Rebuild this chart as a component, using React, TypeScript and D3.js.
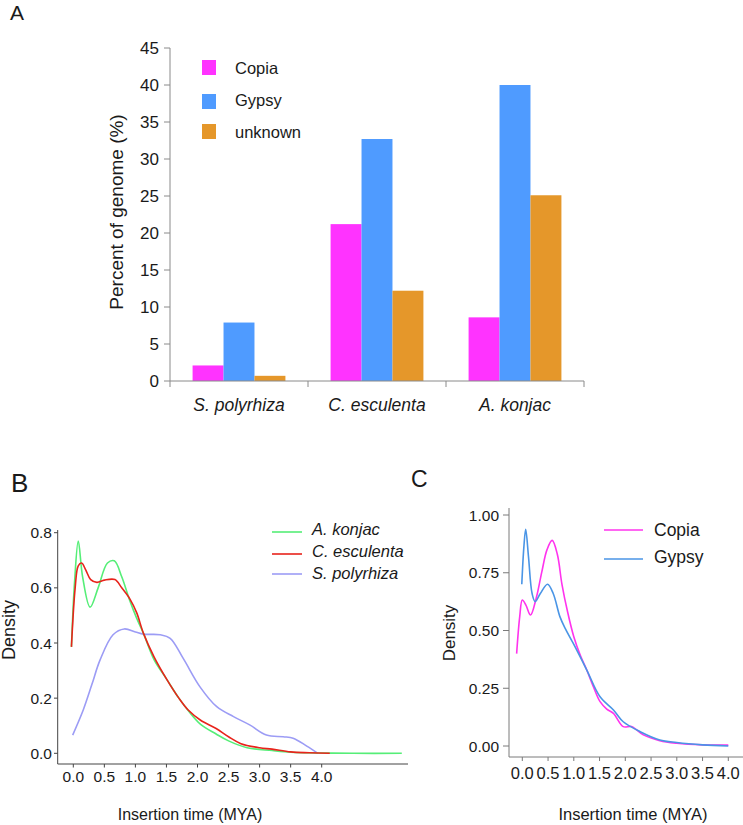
import React from "react";
import * as d3 from "d3";

// ---------- Panel A data ----------
const speciesA = ["S. polyrhiza", "C. esculenta", "A. konjac"];
const seriesA = ["Copia", "Gypsy", "unknown"];
const copiaPct = [2.1, 21.2, 8.6];
const gypsyPct = [7.9, 32.7, 40.0];
const unknownPct = [0.7, 12.2, 25.1];
const yTicksA = [0, 5, 10, 15, 20, 25, 30, 35, 40, 45];

// ---------- Panel B data ----------
const konjacX = [-0.03, 0.02, 0.08, 0.15, 0.27, 0.4, 0.55, 0.66, 0.78, 0.9, 1.02, 1.13, 1.3, 1.5, 1.7, 1.85, 2.05, 2.3, 2.5, 2.8, 3.2, 3.5, 4.0, 4.5, 5.29];
const konjacY = [0.386, 0.62, 0.77, 0.64, 0.53, 0.6, 0.69, 0.698, 0.64, 0.56, 0.49, 0.435, 0.34, 0.27, 0.2, 0.155, 0.105, 0.07, 0.045, 0.02, 0.01, 0.004, 0.001, 0.0, 0.0];
const esculentaX = [-0.03, 0.03, 0.08, 0.135, 0.2, 0.28, 0.38, 0.5, 0.67, 0.78, 0.91, 1.02, 1.13, 1.3, 1.5, 1.7, 1.85, 2.05, 2.3, 2.5, 2.7, 3.0, 3.2, 3.5, 3.8, 4.13];
const esculentaY = [0.386, 0.6, 0.68, 0.69, 0.665, 0.63, 0.62, 0.628, 0.63, 0.6, 0.56, 0.51, 0.435, 0.35, 0.27, 0.2, 0.157, 0.12, 0.09, 0.06, 0.035, 0.02, 0.015, 0.005, 0.002, 0.0];
const polyrhizaX = [-0.01, 0.16, 0.3, 0.43, 0.64, 0.82, 1.0, 1.13, 1.4, 1.56, 1.77, 2.04, 2.31, 2.58, 2.84, 3.11, 3.38, 3.54, 3.76, 3.94];
const polyrhizaY = [0.066, 0.157, 0.25, 0.338, 0.43, 0.451, 0.44, 0.432, 0.43, 0.417, 0.344, 0.241, 0.169, 0.133, 0.103, 0.066, 0.06, 0.055, 0.026, 0.0];
const xTicksB = [0, 0.5, 1, 1.5, 2, 2.5, 3, 3.5, 4];
const yTicksB = [0, 0.2, 0.4, 0.6, 0.8];

// ---------- Panel C data ----------
const copiaX = [-0.11, -0.05, 0.0, 0.07, 0.16, 0.27, 0.38, 0.48, 0.58, 0.68, 0.77, 0.88, 1.0, 1.13, 1.25, 1.38, 1.51, 1.64, 1.77, 1.96, 2.12, 2.35, 2.67, 3.0, 3.5, 4.0];
const copiaY = [0.4, 0.56, 0.632, 0.61, 0.567, 0.64, 0.755, 0.85, 0.89, 0.83, 0.7, 0.58, 0.473, 0.39, 0.33, 0.257, 0.192, 0.16, 0.141, 0.084, 0.084, 0.048, 0.023, 0.012, 0.005, 0.004];
const gypsyX = [-0.01, 0.03, 0.066, 0.12, 0.19, 0.25, 0.35, 0.49, 0.6, 0.73, 0.83, 0.99, 1.25, 1.51, 1.77, 1.96, 2.29, 2.67, 3.0, 3.5, 4.0];
const gypsyY = [0.7, 0.86, 0.938, 0.82, 0.66, 0.625, 0.66, 0.7, 0.66, 0.56, 0.51, 0.444, 0.33, 0.213, 0.156, 0.105, 0.062, 0.026, 0.015, 0.005, 0.0];
const xTicksC = [0, 0.5, 1, 1.5, 2, 2.5, 3, 3.5, 4];
const yTicksC = [0, 0.25, 0.5, 0.75, 1.0];

const FONT = "'Liberation Sans', Arial, Helvetica, sans-serif";
const TXT = "#1a1a1a";

const COL_COPIA = "#FF33FF";
const COL_GYPSY = "#4F9BFF";
const COL_UNKNOWN = "#E5972A";

function zip(xs: number[], ys: number[]): [number, number][] {
  return xs.map((x, i) => [x, ys[i]]);
}

function PanelA() {
  const y = d3.scaleLinear().domain([0, 45]).range([381, 48]);
  const x0 = d3.scaleBand<string>().domain(speciesA).range([170, 584]).padding(0);
  const x1 = d3.scaleBand<string>().domain(seriesA).range([0, x0.bandwidth()]).paddingInner(0).paddingOuter(0.73);
  const vals = [copiaPct, gypsyPct, unknownPct];
  const cols = [COL_COPIA, COL_GYPSY, COL_UNKNOWN];
  const axisCol = "#8a8a8a";
  return (
    <g>
      <text x={10} y={20} fontSize={21} fontFamily={FONT} fill={TXT}>A</text>
      {speciesA.map((sp, i) =>
        seriesA.map((s, j) => (
          <rect key={sp + s} x={(x0(sp) as number) + (x1(s) as number)} y={y(vals[j][i])}
            width={x1.bandwidth()} height={y(0) - y(vals[j][i])} fill={cols[j]} />
        ))
      )}
      <line x1={170} x2={170} y1={y(45)} y2={y(0)} stroke={axisCol} />
      {yTicksA.map((t) => (
        <g key={t}>
          <line x1={164} x2={170} y1={y(t)} y2={y(t)} stroke={axisCol} />
          <text x={159} y={y(t) + 6} textAnchor="end" fontSize={17} fontFamily={FONT} fill={TXT}>{t}</text>
        </g>
      ))}
      <line x1={170} x2={584} y1={y(0)} y2={y(0)} stroke={axisCol} />
      {[...speciesA.map((s) => x0(s) as number), 584].map((v, i) => (
        <line key={i} x1={v} x2={v} y1={y(0)} y2={y(0) + 6} stroke={axisCol} />
      ))}
      {speciesA.map((sp) => (
        <text key={sp} x={(x0(sp) as number) + x0.bandwidth() / 2} y={411} textAnchor="middle"
          fontSize={17.5} fontStyle="italic" fontFamily={FONT} fill={TXT}>{sp}</text>
      ))}
      <text transform={`translate(123,212) rotate(-90)`} textAnchor="middle" fontSize={19} fontFamily={FONT} fill={TXT}>
        Percent of genome (%)
      </text>
      {seriesA.map((s, j) => (
        <g key={s}>
          <rect x={202} y={[60, 94, 124][j]} width={14} height={15} fill={cols[j]} />
          <text x={235} y={[74, 106, 138][j]} fontSize={16.5} fontFamily={FONT} fill={TXT}>{s}</text>
        </g>
      ))}
    </g>
  );
}

function PanelB() {
  const x = d3.scaleLinear().domain([0, 4]).range([73.3, 321.7]);
  const y = d3.scaleLinear().domain([0, 0.8]).range([753.3, 532.7]);
  const line = d3.line<[number, number]>().x((d) => x(d[0])).y((d) => y(d[1])).curve(d3.curveCatmullRom.alpha(0.5));
  const series = [
    { name: "A. konjac", col: "#55EE77", data: zip(konjacX, konjacY) },
    { name: "C. esculenta", col: "#E8231B", data: zip(esculentaX, esculentaY) },
    { name: "S. polyrhiza", col: "#9C9CF5", data: zip(polyrhizaX, polyrhizaY) },
  ];
  const drawOrder = [2, 0, 1];
  const axisCol = "#444";
  return (
    <g>
      <text x={11} y={492} fontSize={26} fontFamily={FONT} fill={TXT}>B</text>
      {drawOrder.map((i) => (
        <path key={series[i].name} d={line(series[i].data) || ""} fill="none" stroke={series[i].col} strokeWidth={1.6} />
      ))}
      <line x1={57.7} x2={57.7} y1={530} y2={764} stroke={axisCol} />
      <line x1={57.7} x2={408} y1={764} y2={764} stroke={axisCol} />
      {yTicksB.map((t) => (
        <g key={t}>
          <line x1={54} x2={57.7} y1={y(t)} y2={y(t)} stroke={axisCol} />
          <text x={52} y={y(t) + 5.5} textAnchor="end" fontSize={15.5} fontFamily={FONT} fill={TXT}>{t.toFixed(1)}</text>
        </g>
      ))}
      {xTicksB.map((t) => (
        <g key={t}>
          <line x1={x(t)} x2={x(t)} y1={764} y2={767.5} stroke={axisCol} />
          <text x={x(t)} y={782} textAnchor="middle" fontSize={15.5} fontFamily={FONT} fill={TXT}>{t.toFixed(1)}</text>
        </g>
      ))}
      <text x={190} y={820} textAnchor="middle" fontSize={16} fontFamily={FONT} fill={TXT}>Insertion time (MYA)</text>
      <text transform={`translate(15,630) rotate(-90)`} textAnchor="middle" fontSize={18} fontFamily={FONT} fill={TXT}>Density</text>
      {series.map((s, i) => (
        <g key={s.name}>
          <line x1={272} x2={302} y1={[532, 554, 574][i]} y2={[532, 554, 574][i]} stroke={s.col} strokeWidth={1.6} />
          <text x={312} y={[535, 557, 579][i]} fontSize={16.5} fontStyle="italic" fontFamily={FONT} fill={TXT}>{s.name}</text>
        </g>
      ))}
    </g>
  );
}

function PanelC() {
  const x = d3.scaleLinear().domain([0, 4]).range([522.3, 728.3]);
  const y = d3.scaleLinear().domain([0, 1]).range([746, 515]);
  const line = d3.line<[number, number]>().x((d) => x(d[0])).y((d) => y(d[1])).curve(d3.curveCatmullRom.alpha(0.5));
  const series = [
    { name: "Copia", col: "#FF33EE", data: zip(copiaX, copiaY) },
    { name: "Gypsy", col: "#4A95E6", data: zip(gypsyX, gypsyY) },
  ];
  const axisCol = "#7a7a7a";
  return (
    <g>
      <text x={411} y={487} fontSize={23} fontFamily={FONT} fill={TXT}>C</text>
      {series.map((s) => (
        <path key={s.name} d={line(s.data) || ""} fill="none" stroke={s.col} strokeWidth={1.6} />
      ))}
      <line x1={509} x2={509} y1={508} y2={757} stroke={axisCol} />
      <line x1={509} x2={743} y1={757} y2={757} stroke={axisCol} />
      {yTicksC.map((t) => (
        <g key={t}>
          <line x1={503} x2={509} y1={y(t)} y2={y(t)} stroke={axisCol} />
          <text x={499} y={y(t) + 5.5} textAnchor="end" fontSize={15.5} fontFamily={FONT} fill={TXT}>{t.toFixed(2)}</text>
        </g>
      ))}
      {xTicksC.map((t) => (
        <g key={t}>
          <line x1={x(t)} x2={x(t)} y1={757} y2={761} stroke={axisCol} />
          <text x={x(t)} y={778.5} textAnchor="middle" fontSize={16.5} fontFamily={FONT} fill={TXT}>{t.toFixed(1)}</text>
        </g>
      ))}
      <text x={633} y={820} textAnchor="middle" fontSize={16.5} fontFamily={FONT} fill={TXT}>Insertion time (MYA)</text>
      <text transform={`translate(455,633) rotate(-90)`} textAnchor="middle" fontSize={17} fontFamily={FONT} fill={TXT}>Density</text>
      {series.map((s, i) => (
        <g key={s.name}>
          <line x1={604} x2={643} y1={[530, 559][i]} y2={[530, 559][i]} stroke={s.col} strokeWidth={1.6} />
          <text x={654} y={[536, 563][i]} fontSize={17.5} fontFamily={FONT} fill={TXT}>{s.name}</text>
        </g>
      ))}
    </g>
  );
}

export default function App() {
  return (
    <svg width={743} height={825} style={{ position: "absolute", left: 0, top: 0, background: "#fff" }}>
      <rect width={743} height={825} fill="#fff" />
      <PanelA />
      <PanelB />
      <PanelC />
    </svg>
  );
}
